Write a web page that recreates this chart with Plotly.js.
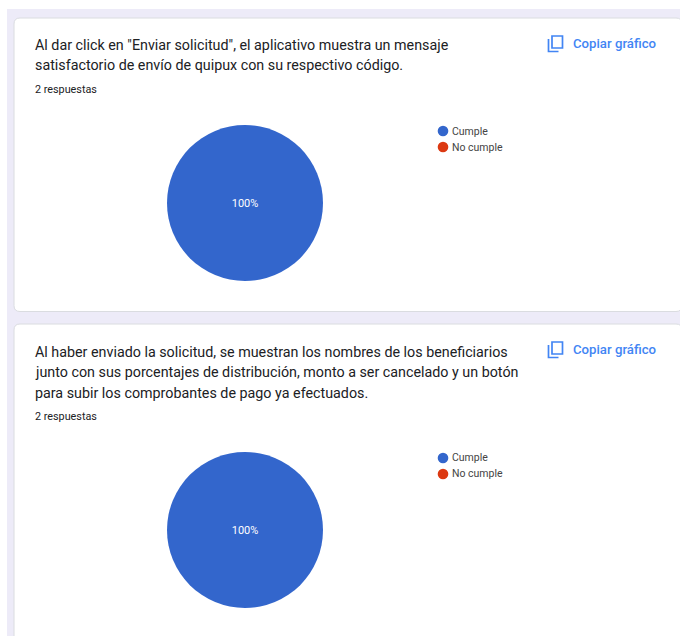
<!DOCTYPE html>
<html><head><meta charset="utf-8">
<script src="https://cdn.plot.ly/plotly-3.0.0.min.js"></script>
<style>html,body{margin:0;padding:0;background:#fff;overflow:hidden}#c{width:680px;height:636px}</style>
</head><body><div id="c"></div>
<script>
const categories = ["Cumple", "No cumple"];
const colors = ["#3366CC", "#DC3912"];
const q1Values = [2, 0];
const q2Values = [2, 0];
const q1Lines = ['Al dar click en "Enviar solicitud", el aplicativo muestra un mensaje', 'satisfactorio de envío de quipux con su respectivo código.'];
const q2Lines = ['Al haber enviado la solicitud, se muestran los nombres de los beneficiarios', 'junto con sus porcentajes de distribución, monto a ser cancelado y un botón', 'para subir los comprobantes de pago ya efectuados.'];
const responses = "2 respuestas";
const copyLabel = "Copiar gráfico";

const W = 680, H = 636;
const X = p => p / W, Y = p => 1 - p / H;
const FONT = "Roboto, sans-serif";

function card(x0, y0, x1, y1, r) {
  const p = `M${X(x0)},${Y(y0 + r)} Q${X(x0)},${Y(y0)} ${X(x0 + r)},${Y(y0)} L${X(x1 - r)},${Y(y0)} Q${X(x1)},${Y(y0)} ${X(x1)},${Y(y0 + r)} L${X(x1)},${Y(y1 - r)} Q${X(x1)},${Y(y1)} ${X(x1 - r)},${Y(y1)} L${X(x0 + r)},${Y(y1)} Q${X(x0)},${Y(y1)} ${X(x0)},${Y(y1 - r)} Z`;
  return {type: "path", xref: "paper", yref: "paper", path: p, fillcolor: "#fff", line: {color: "#DADCE0", width: 1}, layer: "below"};
}
function rect(x0, y0, x1, y1, fill) {
  return {type: "rect", xref: "paper", yref: "paper", x0: X(x0), x1: X(x1), y0: Y(y0), y1: Y(y1), fillcolor: fill, line: {width: 0}, layer: "below"};
}
function dot(cx, cy, r, fill) {
  return {type: "circle", xref: "paper", yref: "paper", x0: X(cx - r), x1: X(cx + r), y0: Y(cy - r), y1: Y(cy + r), fillcolor: fill, line: {width: 0}};
}
function icon(x, y) {
  const c = "#4285F4";
  const back = `M${X(x + 1)},${Y(y + 4)} L${X(x + 1)},${Y(y + 16.5)} L${X(x + 11)},${Y(y + 16.5)}`;
  return [
    {type: "rect", xref: "paper", yref: "paper", x0: X(x + 4.5), x1: X(x + 15), y0: Y(y + 1), y1: Y(y + 13), fillcolor: "rgba(0,0,0,0)", line: {color: c, width: 1.7}},
    {type: "path", xref: "paper", yref: "paper", path: back, line: {color: c, width: 1.7}}
  ];
}
function txt(t, x, y, size, color, weight) {
  return {text: t, xref: "paper", yref: "paper", x: X(x), y: Y(y), xanchor: "left", yanchor: "middle", align: "left", showarrow: false,
    font: {family: FONT, size: size, color: color, weight: weight || 400}, borderpad: 0};
}
function pie(values, cx, cy, r) {
  return {type: "pie", labels: categories, values: values, marker: {colors: colors}, sort: false, direction: "clockwise",
    textinfo: "percent", textposition: "inside", insidetextorientation: "horizontal", insidetextfont: {family: FONT, size: 11, color: "#fff"},
    domain: {x: [X(cx - r), X(cx + r)], y: [Y(cy + r), Y(cy - r)]}, showlegend: false};
}

const cards = [
  {lines: q1Lines, lineY: [45, 65], respY: 89, copyY: 43.5, iconY: 35, cy: 203, legY: 131},
  {lines: q2Lines, lineY: [352, 372, 393], respY: 416, copyY: 349.5, iconY: 341, cy: 530, legY: 458}
];
const shapes = [rect(7, 9, 680, 636, "#EDEBF8"), card(14, 18, 682, 311.5, 6), card(14, 324, 682, 660, 6)];
const annotations = [];
cards.forEach(c => {
  c.lines.forEach((l, i) => annotations.push(txt(l, 34, c.lineY[i], 14.3, "#202124")));
  annotations.push(txt(responses, 34, c.respY, 10.8, "#202124"));
  annotations.push(txt(copyLabel, 572, c.copyY, 13.2, "#4285F4", 500));
  shapes.push(...icon(547.5, c.iconY));
  categories.forEach((n, i) => {
    shapes.push(dot(443, c.legY + i * 16, 5.3, colors[i]));
    annotations.push(txt(n, 451, c.legY + i * 16, 10.5, "#444"));
  });
});

Plotly.newPlot("c", [pie(q1Values, 245, 203, 78), pie(q2Values, 245, 530, 78)], {
  width: W, height: H, margin: {l: 0, r: 0, t: 0, b: 0}, paper_bgcolor: "#fff", showlegend: false, shapes, annotations
}, {displayModeBar: false});
</script></body></html>
